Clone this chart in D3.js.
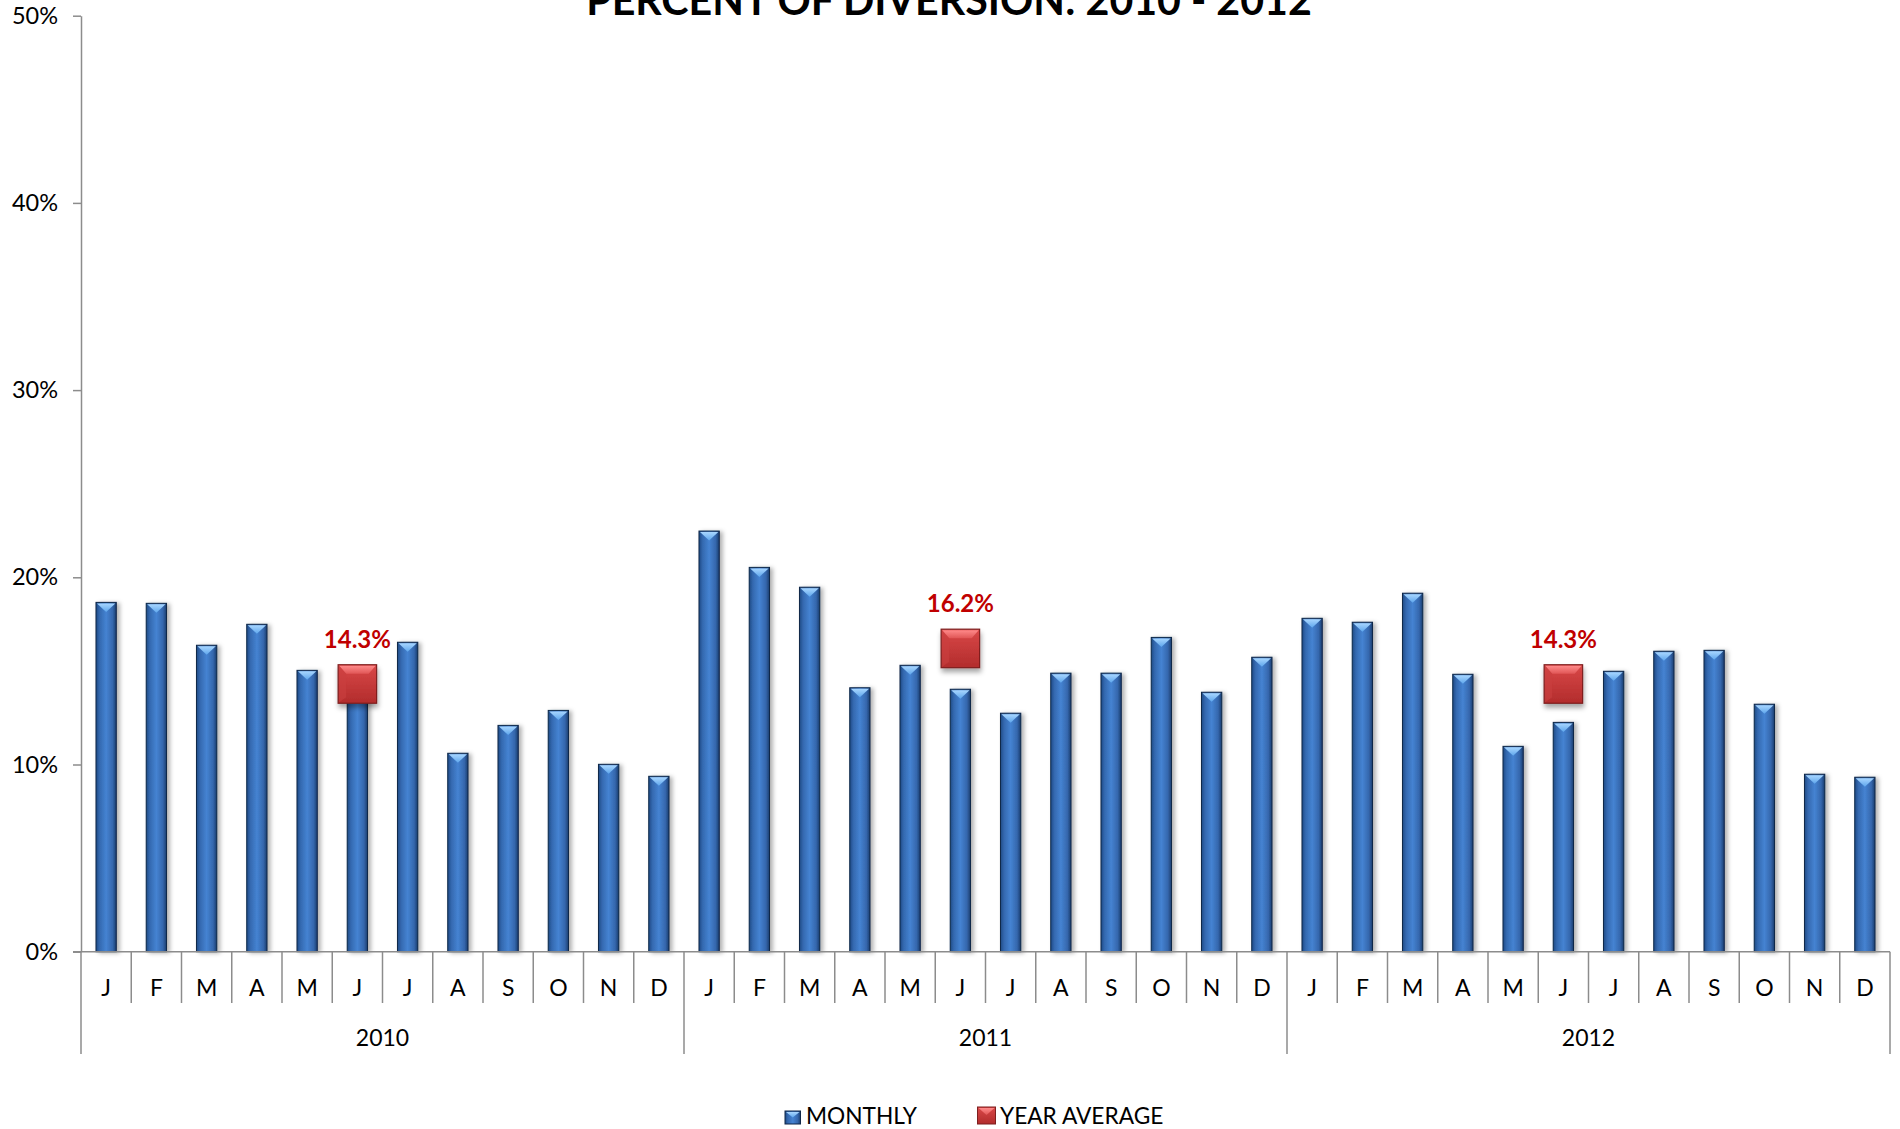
<!DOCTYPE html>
<html>
<head>
<meta charset="utf-8">
<script src="https://cdn.jsdelivr.net/npm/d3@7"></script>
<style>
  html, body { margin: 0; padding: 0; background: #ffffff; }
  svg { display: block; font-family: Lato, "Open Sans", sans-serif; }
</style>
</head>
<body>
<svg id="chart" width="1900" height="1129"></svg>
<script>
// ---- data ----
const monthLetters = ["J","F","M","A","M","J","J","A","S","O","N","D"];
const years = ["2010","2011","2012"];
const monthly2010 = [18.66,18.61,16.37,17.49,15.03,13.95,16.53,10.60,12.09,12.89,10.01,9.37];
const monthly2011 = [22.47,20.53,19.47,14.10,15.30,14.02,12.74,14.88,14.88,16.79,13.86,15.73];
const monthly2012 = [17.81,17.60,19.15,14.82,10.97,12.25,14.98,16.05,16.10,13.22,9.48,9.32];
const yearAverage = [14.3, 16.2, 14.3];
const averageLabels = ["14.3%","16.2%","14.3%"];
const averageMonthIndex = 5; // June
const yTicks = [0,10,20,30,40,50];
const titleText = "PERCENT OF DIVERSION: 2010 - 2012";
const legendLabels = ["MONTHLY","YEAR AVERAGE"];

(function () {
// ---- build rows ----
const monthlySeries = [monthly2010, monthly2011, monthly2012];
const rows = [];
years.forEach((yr, yi) => {
  monthLetters.forEach((m, mi) => {
    rows.push({key: yr + "-" + mi, year: yr, yi, mi, month: m, value: monthlySeries[yi][mi]});
  });
});
const avgRows = years.map((yr, yi) => ({key: yr + "-" + averageMonthIndex, value: yearAverage[yi], label: averageLabels[yi]}));

const svg = d3.select("#chart");
const pLeft = 81, pRight = 1890, pTop = 15.7, pBottom = 951.7;

const x = d3.scaleBand().domain(rows.map(d => d.key)).range([pLeft, pRight]).paddingInner(0).paddingOuter(0);
const y = d3.scaleLinear().domain([0, 50]).range([pBottom, pTop]);
const barW = x.bandwidth() * 0.404;
const gray = "#8c8c8c";

// ---- defs ----
const defs = svg.append("defs");
const bg = defs.append("linearGradient").attr("id", "barGrad").attr("x1", 0).attr("x2", 1).attr("y1", 0).attr("y2", 0);
[[0,"#1f4a85"],[0.18,"#3469b0"],[0.5,"#4583d2"],[0.82,"#3567ad"],[1,"#1a3d6e"]].forEach(([o,c]) => bg.append("stop").attr("offset", o).attr("stop-color", c));
const tg = defs.append("linearGradient").attr("id", "topGrad").attr("x1", 0).attr("x2", 0).attr("y1", 0).attr("y2", 1);
[[0,"#a8d6ff"],[1,"#5ea6ec"]].forEach(([o,c]) => tg.append("stop").attr("offset", o).attr("stop-color", c));
const rg = defs.append("linearGradient").attr("id", "redGrad").attr("x1", 0).attr("x2", 0).attr("y1", 0).attr("y2", 1);
[[0,"#d94848"],[1,"#b22c2c"]].forEach(([o,c]) => rg.append("stop").attr("offset", o).attr("stop-color", c));
const rtg = defs.append("linearGradient").attr("id", "redTopGrad").attr("x1", 0).attr("x2", 0).attr("y1", 0).attr("y2", 1);
[[0,"#ff8a8a"],[1,"#e05656"]].forEach(([o,c]) => rtg.append("stop").attr("offset", o).attr("stop-color", c));
const sh = defs.append("filter").attr("id", "shadow").attr("x", "-50%").attr("y", "-20%").attr("width", "200%").attr("height", "140%");
sh.append("feDropShadow").attr("dx", 3).attr("dy", 1).attr("stdDeviation", 2).attr("flood-color", "#000").attr("flood-opacity", 0.3);
const sh2 = defs.append("filter").attr("id", "shadow2").attr("x", "-50%").attr("y", "-50%").attr("width", "200%").attr("height", "200%");
sh2.append("feDropShadow").attr("dx", 1).attr("dy", 4).attr("stdDeviation", 2.5).attr("flood-color", "#000").attr("flood-opacity", 0.35);

// ---- title ----
const title = svg.append("text").attr("x", 949).attr("y", 15).attr("text-anchor", "middle")
  .attr("font-weight", 700).attr("font-size", 36).attr("fill", "#000").text(titleText);
const tw = title.node().getComputedTextLength();
title.attr("font-size", 36 * 726 / tw);

// ---- y axis ----
const yAxis = svg.append("g").attr("transform", `translate(${pLeft},0)`)
  .call(d3.axisLeft(y).tickValues(yTicks).tickFormat(d => d + "%").tickSize(8).tickSizeOuter(0).tickPadding(15));
yAxis.select(".domain").attr("stroke", gray).attr("stroke-width", 1.5);
yAxis.selectAll(".tick line").attr("stroke", gray).attr("stroke-width", 1.5);
yAxis.selectAll(".tick text").attr("font-size", 23.5).attr("fill", "#000").attr("font-family", "Lato, sans-serif");

// ---- bars ----
const bars = svg.append("g").selectAll("g.bar").data(rows).join("g").attr("class", "bar");
const bx = d => x(d.key) + (x.bandwidth() - barW) / 2;
bars.append("rect")
  .attr("x", bx).attr("y", d => y(d.value)).attr("width", barW).attr("height", d => y(0) - y(d.value))
  .attr("fill", "url(#barGrad)").attr("stroke", "#0f2748").attr("stroke-width", 1).attr("filter", "url(#shadow)");
bars.append("path")
  .attr("d", d => {
    const x0 = bx(d) + 1, x1 = bx(d) + barW - 1, t = y(d.value) + 1, cx = bx(d) + barW / 2;
    return `M${x0},${t}L${x1},${t}L${cx},${t + 8.5}Z`;
  })
  .attr("fill", "url(#topGrad)");

// ---- x axis ----
const xAxisG = svg.append("g");
xAxisG.append("line").attr("x1", pLeft - 8).attr("x2", pRight).attr("y1", y(0)).attr("y2", y(0)).attr("stroke", gray).attr("stroke-width", 1.5);
const boundaries = rows.map(d => ({x: x(d.key), yearStart: d.mi === 0}));
boundaries.push({x: pRight, yearStart: true});
xAxisG.selectAll("line.sep").data(boundaries).join("line").attr("class", "sep")
  .attr("x1", d => d.x).attr("x2", d => d.x).attr("y1", y(0)).attr("y2", d => d.yearStart ? 1054 : 1003)
  .attr("stroke", gray).attr("stroke-width", 1.5);
const mAxis = svg.append("g").attr("transform", `translate(0,${y(0)})`)
  .call(d3.axisBottom(x).tickSize(0).tickPadding(0).tickFormat(k => monthLetters[+k.split("-")[1]]));
mAxis.select(".domain").remove();
mAxis.selectAll(".tick text").attr("dy", null).attr("y", 44).attr("font-size", 23).attr("fill", "#000").attr("font-family", "Lato, sans-serif");
svg.append("g").selectAll("text.year").data(years).join("text").attr("class", "year")
  .attr("x", d => (x(d + "-0") + x(d + "-11") + x.bandwidth()) / 2)
  .attr("y", 1046).attr("text-anchor", "middle").attr("font-size", 23).attr("fill", "#000").text(d => d);

// ---- year average markers ----
const mk = 38.5;
const markers = svg.append("g").selectAll("g.mk").data(avgRows).join("g").attr("class", "mk");
const mcx = d => x(d.key) + x.bandwidth() / 2;
markers.append("rect")
  .attr("x", d => mcx(d) - mk / 2).attr("y", d => y(d.value) - mk / 2).attr("width", mk).attr("height", mk)
  .attr("fill", "url(#redGrad)").attr("stroke", "#7d1f1f").attr("stroke-width", 1.2).attr("filter", "url(#shadow2)");
markers.append("path")
  .attr("d", d => {
    const x0 = mcx(d) - mk / 2 + 1, x1 = mcx(d) + mk / 2 - 1, t = y(d.value) - mk / 2 + 1;
    return `M${x0},${t}L${x1},${t}L${x1 - 7},${t + 8}L${x0 + 7},${t + 8}Z`;
  })
  .attr("fill", "url(#redTopGrad)");
markers.append("path")
  .attr("d", d => {
    const x0 = mcx(d) - mk / 2 + 1, t = y(d.value) - mk / 2 + 1, b = y(d.value) + mk / 2 - 1;
    return `M${x0},${t}L${x0 + 7},${t + 8}L${x0 + 7},${b - 5}L${x0},${b}Z`;
  })
  .attr("fill", "#c94040").attr("opacity", 0.6);
markers.append("text")
  .attr("x", mcx).attr("y", d => y(d.value) - mk / 2 - 17)
  .attr("text-anchor", "middle").attr("font-weight", 700).attr("font-size", 24).attr("fill", "#c00000")
  .text(d => d.label);

// ---- legend ----
const lg = svg.append("g");
lg.append("rect").attr("x", 785).attr("y", 1111).attr("width", 15.5).attr("height", 13)
  .attr("fill", "url(#barGrad)").attr("stroke", "#0f2748").attr("stroke-width", 1);
lg.append("path").attr("d", "M786,1112L799.5,1112L792.75,1117.5Z").attr("fill", "url(#topGrad)");
lg.append("text").attr("x", 806).attr("y", 1124).attr("font-size", 22.7).attr("fill", "#000").text(legendLabels[0]);
lg.append("rect").attr("x", 977.5).attr("y", 1107).attr("width", 18).attr("height", 17)
  .attr("fill", "url(#redGrad)").attr("stroke", "#7d1f1f").attr("stroke-width", 1);
lg.append("path").attr("d", "M978.5,1108L994.5,1108L986.5,1115Z").attr("fill", "url(#redTopGrad)");
lg.append("text").attr("x", 1000).attr("y", 1124).attr("font-size", 22.7).attr("fill", "#000").text(legendLabels[1]);
})();
</script>
</body>
</html>
